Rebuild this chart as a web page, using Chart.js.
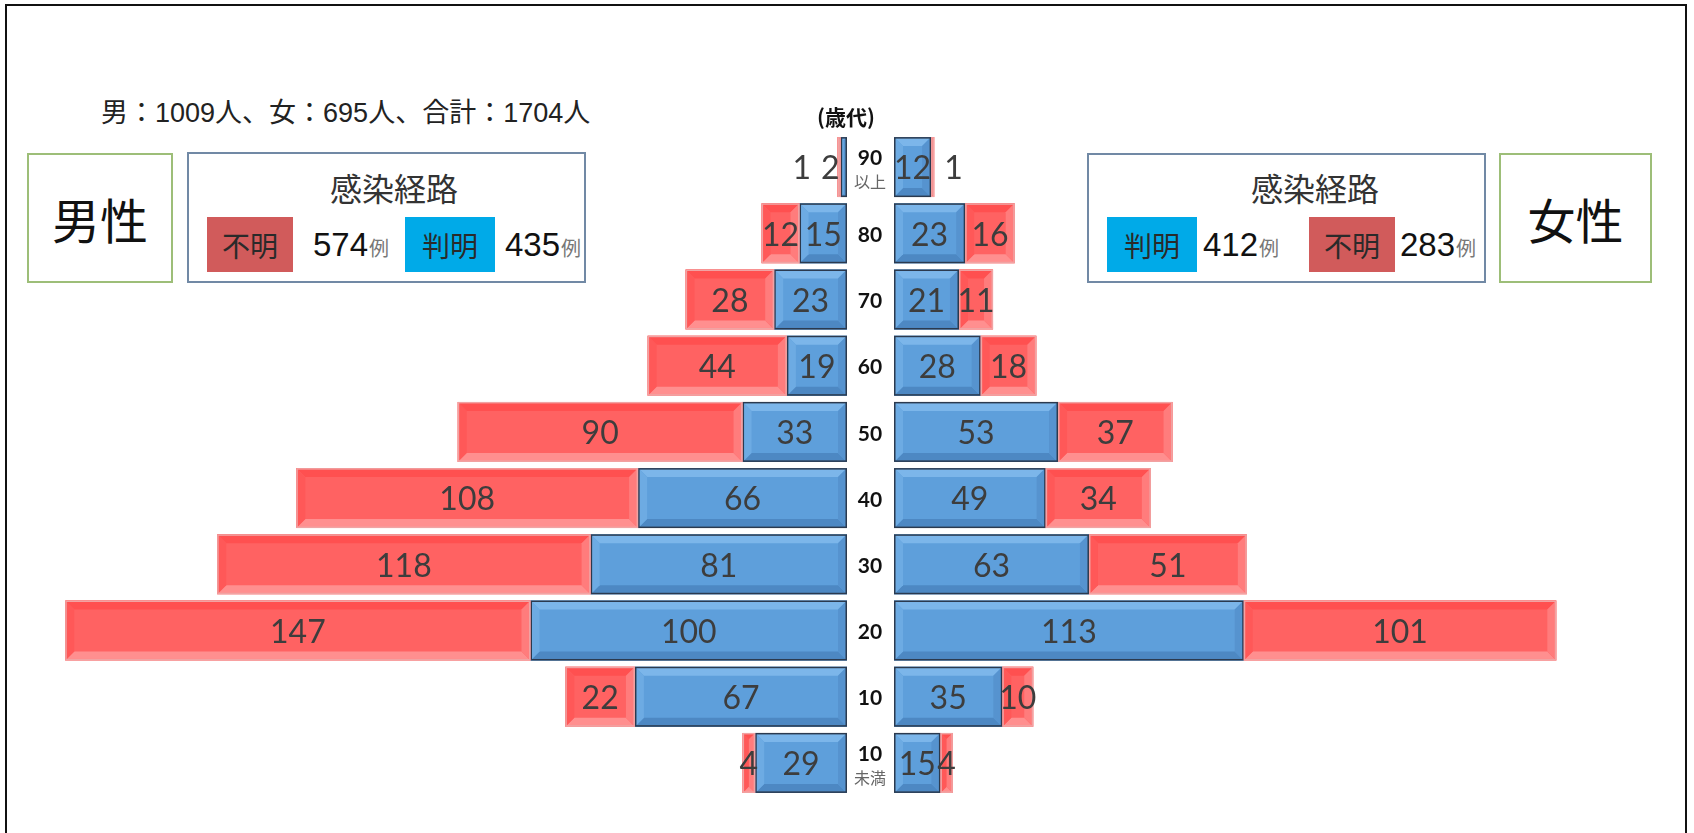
<!DOCTYPE html>
<html>
<head>
<meta charset="utf-8">
<script src="https://cdn.jsdelivr.net/npm/chart.js@4"></script>
<style>
  html, body { margin: 0; padding: 0; background: #fff; }
  body { width: 1694px; height: 833px; position: relative; overflow: hidden;
         font-family: "Noto Sans CJK JP", sans-serif; color: #222; }
  .abs { position: absolute; box-sizing: border-box; }
  #frame { left: 5px; top: 4px; width: 1682px; height: 900px; border: 2px solid #111; border-bottom: none; }
  canvas { position: absolute; top: 0; }
  .summary { left: 101px; top: 93px; font-size: 27px; line-height: 36px; color: #222; white-space: nowrap; }
  .num { font-family: "Liberation Sans Narrow", "Liberation Sans", sans-serif; font-size: 27px; }
  .sexbox { border: 2px solid #9DBE78; display: flex; align-items: center; justify-content: center;
            font-size: 48px; color: #111; }
  .routebox { border: 2px solid #7189A5; }
  .routetitle { font-size: 32px; color: #333; line-height: 40px; white-space: nowrap; }
  .swatch { height: 55px; display: flex; align-items: center; justify-content: center;
            font-size: 28px; color: #2a2a2a; }
  .count { height: 55px; display: flex; align-items: center; white-space: nowrap; }
  .count .n { font-family: "Liberation Sans Narrow", "Liberation Sans", sans-serif; font-size: 33px; color: #111; }
  .count .u { font-size: 20px; color: #777; margin-left: 1px; position: relative; top: 3px; }
</style>
</head>
<body>
<div id="frame" class="abs"></div>

<div class="abs summary">男：<span class="num">1009</span>人、女：<span class="num">695</span>人、合計：<span class="num">1704</span>人</div>

<!-- 男性 header -->
<div class="abs sexbox" style="left:27px; top:153px; width:146px; height:130px;">男性</div>
<div class="abs routebox" style="left:187px; top:152px; width:399px; height:131px;"></div>
<div class="abs routetitle" style="left:330px; top:167px;">感染経路</div>
<div class="abs swatch" style="left:207px; top:217px; width:86px; background:#D15B5B;">不明</div>
<div class="abs count" style="left:313px; top:217px;"><span class="n">574</span><span class="u">例</span></div>
<div class="abs swatch" style="left:405px; top:217px; width:90px; background:#00AAE8;">判明</div>
<div class="abs count" style="left:505px; top:217px;"><span class="n">435</span><span class="u">例</span></div>

<!-- 女性 header -->
<div class="abs routebox" style="left:1087px; top:153px; width:399px; height:130px;"></div>
<div class="abs routetitle" style="left:1251px; top:167px;">感染経路</div>
<div class="abs swatch" style="left:1107px; top:217px; width:90px; background:#00AAE8;">判明</div>
<div class="abs count" style="left:1203px; top:217px;"><span class="n">412</span><span class="u">例</span></div>
<div class="abs swatch" style="left:1309px; top:217px; width:86px; background:#D15B5B;">不明</div>
<div class="abs count" style="left:1400px; top:217px;"><span class="n">283</span><span class="u">例</span></div>
<div class="abs sexbox" style="left:1499px; top:153px; width:153px; height:130px;">女性</div>

<canvas id="male" width="894" height="833" style="left:0px;"></canvas>
<canvas id="female" width="847" height="833" style="left:847px;"></canvas>

<script>
// Age groups (first line bold, optional second line small)
const ageLabels = [['90', '以上'], ['80'], ['70'], ['60'], ['50'], ['40'], ['30'], ['20'], ['10'], ['10', '未満']];
const ageAxisTitle = '(歳代)';

// Cases by infection route
const maleKnown     = [2, 15, 23, 19, 33, 66, 81, 100, 67, 29];
const maleUnknown   = [1, 12, 28, 44, 90, 108, 118, 147, 22, 4];
const femaleKnown   = [12, 23, 21, 28, 53, 49, 63, 113, 35, 15];
const femaleUnknown = [1, 16, 11, 18, 37, 34, 51, 101, 10, 4];

const axisMax = 250;

const BLUE = { fill: '#5E9FDB', top: '#7CB6EA', left: '#6DABE3', bottom: '#4D88C3', right: '#5693CF', border: '#2B3A4F' };
const RED  = { fill: '#FF6262', top: '#FF5050', left: '#FF5858', bottom: '#FF8F8F', right: '#FF7C7C', border: '#F1A3A3' };

function poly(ctx, pts, color) {
  ctx.beginPath();
  ctx.moveTo(pts[0][0], pts[0][1]);
  for (let k = 1; k < pts.length; k++) ctx.lineTo(pts[k][0], pts[k][1]);
  ctx.closePath();
  ctx.fillStyle = color;
  ctx.fill();
}

// Bevelled bar faces, outlines and value labels
const barDecor = {
  id: 'barDecor',
  afterDatasetsDraw(chart, args, opts) {
    const ctx = chart.ctx;
    const reverse = chart.options.scales.x.reverse;
    const sign = reverse ? -1 : 1;
    ctx.save();
    chart.data.datasets.forEach((ds, di) => {
      const pal = ds.palette;
      chart.getDatasetMeta(di).data.forEach((bar) => {
        const p = bar.getProps(['x', 'y', 'base', 'height'], true);
        const l = Math.min(p.x, p.base), r = Math.max(p.x, p.base);
        const t = p.y - p.height / 2, b = p.y + p.height / 2;
        const w = r - l;
        if (w <= 0.01) return;
        const d = Math.min(9, w / 2, p.height / 2);
        poly(ctx, [[l, t], [r, t], [r - d, t + d], [l + d, t + d]], pal.top);
        poly(ctx, [[l, b], [r, b], [r - d, b - d], [l + d, b - d]], pal.bottom);
        poly(ctx, [[l, t], [l + d, t + d], [l + d, b - d], [l, b]], pal.left);
        poly(ctx, [[r, t], [r - d, t + d], [r - d, b - d], [r, b]], pal.right);
        ctx.strokeStyle = pal.border;
        ctx.lineWidth = 1.5;
        ctx.strokeRect(l + 0.75, t + 0.75, Math.max(w - 1.5, 0.5), p.height - 1.5);
      });
    });

    // value labels: centred in the segment, or set beside the bar when the segment is too thin
    ctx.font = '32px Lato, "Noto Sans", sans-serif';
    ctx.fillStyle = '#3d3d3d';
    ctx.textBaseline = 'middle';
    const n = chart.data.labels.length;
    const last = chart.data.datasets.length - 1;
    for (let i = 0; i < n; i++) {
      let cursor = null;
      chart.data.datasets.forEach((ds, di) => {
        const v = ds.data[i];
        if (!v) return;
        const p = chart.getDatasetMeta(di).data[i].getProps(['x', 'y', 'base'], true);
        const w = Math.abs(p.x - p.base);
        const txt = String(v);
        if (w >= 10) {
          ctx.textAlign = 'center';
          ctx.fillText(txt, (p.x + p.base) / 2, p.y + 2);
        } else {
          if (cursor === null) {
            cursor = chart.getDatasetMeta(last).data[i].getProps(['x'], true).x + sign * opts.outsideGap;
          }
          ctx.textAlign = reverse ? 'right' : 'left';
          ctx.fillText(txt, cursor, p.y + 2);
          cursor += sign * (ctx.measureText(txt).width + 10);
        }
      });
    }
    ctx.restore();
  }
};

// Age labels between the two halves
const ageColumn = {
  id: 'ageColumn',
  afterDraw(chart) {
    const ctx = chart.ctx;
    const ys = chart.scales.y;
    const cx = chart.chartArea.right + 23;
    ctx.save();
    ctx.textAlign = 'center';
    ctx.textBaseline = 'middle';
    ctx.fillStyle = '#111';
    ctx.font = 'bold 21px "Noto Sans CJK JP", sans-serif';
    ctx.fillText(ageAxisTitle, cx - 24, 117);
    chart.data.labels.forEach((lab, i) => {
      const y = ys.getPixelForValue(i);
      if (lab.length > 1) {
        ctx.fillStyle = '#111';
        ctx.font = 'bold 21px Lato, sans-serif';
        ctx.fillText(lab[0], cx, y - 9);
        ctx.fillStyle = '#666';
        ctx.font = '16px "Noto Sans CJK JP", sans-serif';
        ctx.fillText(lab[1], cx, y + 15);
      } else {
        ctx.fillStyle = '#111';
        ctx.font = 'bold 21px Lato, sans-serif';
        ctx.fillText(lab[0], cx, y + 2);
      }
    });
    ctx.restore();
  }
};

function pyramidHalf(canvasId, known, unknown, reverse, padLeft, padRight, outsideGap, extraPlugins) {
  return new Chart(document.getElementById(canvasId), {
    type: 'bar',
    data: {
      labels: ageLabels,
      datasets: [
        { label: '判明', data: known, backgroundColor: BLUE.fill, borderWidth: 0, palette: BLUE },
        { label: '不明', data: unknown, backgroundColor: RED.fill, borderWidth: 0, palette: RED }
      ]
    },
    options: {
      responsive: false,
      animation: false,
      indexAxis: 'y',
      layout: { padding: { left: padLeft, right: padRight, top: 134, bottom: 37 } },
      datasets: { bar: { categoryPercentage: 0.906, barPercentage: 1 } },
      plugins: { legend: { display: false }, tooltip: { enabled: false }, barDecor: { outsideGap: outsideGap } },
      scales: {
        x: { stacked: true, min: 0, max: axisMax, reverse: reverse, display: false },
        y: { stacked: true, display: false }
      }
    },
    plugins: [barDecor].concat(extraPlugins)
  });
}

pyramidHalf('male', maleKnown, maleUnknown, true, 55.75, 47, -2, [ageColumn]);
pyramidHalf('female', femaleKnown, femaleUnknown, false, 47, 26.25, 10, []);
</script>
</body>
</html>
